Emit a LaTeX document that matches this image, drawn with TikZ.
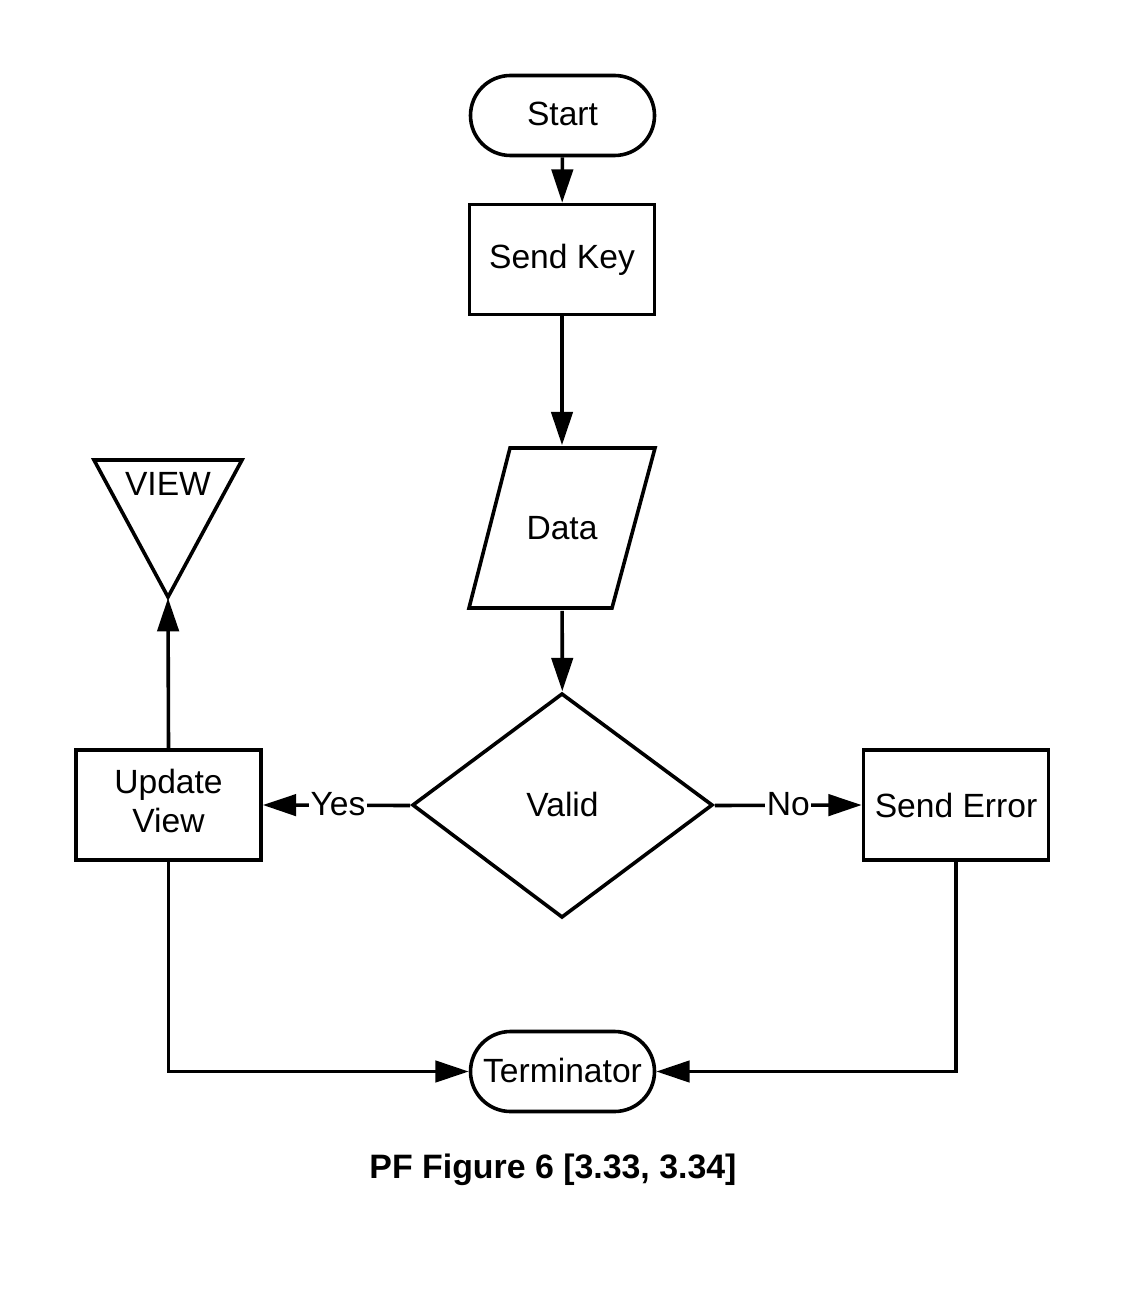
\documentclass[tikz,border=0pt]{standalone}
\usepackage{fontspec}
\setmainfont{Liberation Sans}
\usetikzlibrary{arrows.meta,shapes.geometric,shapes.misc}
\begin{document}
\begin{tikzpicture}[x=0.75pt,y=-0.75pt,
  line width=2.7pt,
  every node/.style={font=\fontsize{25.2}{30}\selectfont},
  term/.style={draw,rounded rectangle,minimum width=184*0.75pt,minimum height=80*0.75pt,inner sep=0pt},
  proc/.style={draw,rectangle,minimum width=185*0.75pt,minimum height=110*0.75pt,inner sep=0pt,align=center},
  flow/.style={-{Triangle[length=25pt,width=16pt]}},
  lbl/.style={fill=white,inner sep=1pt}]
\useasboundingbox (0,0) rectangle (1125,1301);
\node[term] (start) at (562.5,115.5) {\raisebox{3pt}{Start}};
\node[proc] (send) at (562,259.5) {\raisebox{-1pt}{Send Key}};
\draw (510,448) -- (655,448) -- (612,608) -- (469,608) -- cycle;
\node[inner sep=0pt,minimum width=188*0.75pt,minimum height=162*0.75pt] (data) at (562,528) {Data};
\draw (562,694) -- (712,805) -- (562,917) -- (413,805) -- cycle;
\node[inner sep=0pt,minimum width=301*0.75pt,minimum height=225*0.75pt] (valid) at (562.5,805.5) {\raisebox{2pt}{Valid}};
\node[proc] (err) at (956,805) {Send Error};
\node[proc,minimum width=185*0.75pt] (upd) at (168.5,805) {\raisebox{4pt}{\begin{tabular}{@{}c@{}}Update\\[-1pt]View\end{tabular}}};
\draw (94,460) -- (242,460) -- (168,597) -- cycle;
\node[anchor=north,inner sep=0pt] (view) at (168,471) {VIEW};
\coordinate (viewtip) at (168,598);
\node[term] (term) at (562.5,1071.5) {\raisebox{2pt}{Terminator}};
\node[font=\fontsize{25.4}{30}\selectfont\bfseries] (title) at (553,1170) {PF Figure 6 [3.33, 3.34]};

\draw[flow] (start) -- (send);
\draw[flow] (send) -- (data);
\draw[flow] (data) -- (valid);
\draw[flow] (valid.west) -- node[lbl,pos=0.49] {\raisebox{2pt}{Yes}} (upd.east);
\draw[flow] (valid.east) -- node[lbl,pos=0.5] {\raisebox{2pt}{No}} (err.west);
\draw[flow] (upd.north) -- (viewtip);
\draw[flow] (upd.south) |- (term.west);
\draw[flow] (err.south) |- (term.east);
\end{tikzpicture}
\end{document}
